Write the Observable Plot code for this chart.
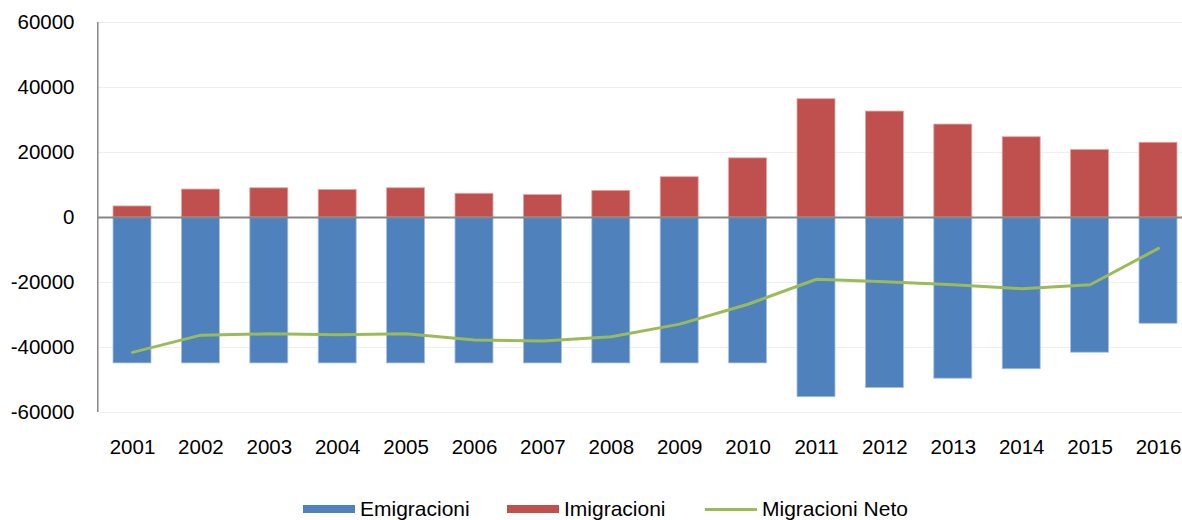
<!DOCTYPE html>
<html>
<head>
<meta charset="utf-8">
<script src="https://cdn.jsdelivr.net/npm/d3@7"></script>
<script src="https://cdn.jsdelivr.net/npm/@observablehq/plot@0.6"></script>
<style>
  html, body { margin: 0; padding: 0; background: #fff; }
  body { width: 1182px; height: 520px; overflow: hidden; font-family: "Liberation Sans", Arial, sans-serif; }
  #legend { position: relative; height: 50px; width: 1182px; font-size: 21px; color: #000; }
  #legend .sw { position: absolute; }
  #legend .lb { position: absolute; line-height: 24px; white-space: nowrap; }
</style>
</head>
<body>
<div id="chart"></div>
<div id="legend"></div>
<script>
const years = ["2001","2002","2003","2004","2005","2006","2007","2008","2009","2010","2011","2012","2013","2014","2015","2016"];
const emigracioni = [-44900,-44900,-44900,-44900,-44900,-44900,-44900,-44900,-44900,-44900,-55300,-52500,-49600,-46700,-41600,-32700];
const imigracioni = [3400,8600,9000,8500,9000,7300,6900,8200,12400,18200,36400,32600,28600,24700,20800,23000];
const neto = [-41500,-36200,-35800,-36100,-35800,-37700,-38000,-36700,-32800,-26700,-19000,-19800,-20700,-21900,-20700,-9500];
const yTicks = [-60000,-40000,-20000,0,20000,40000,60000];
const gridTicks = [-60000,-40000,-20000,20000,40000,60000];
const seriesNames = ["Emigracioni","Imigracioni","Migracioni Neto"];
const colors = ["#4F81BD","#C0504D","#9BBB59"];

const emiData = years.map((y, i) => ({year: y, value: emigracioni[i]}));
const immData = years.map((y, i) => ({year: y, value: imigracioni[i]}));
const netData = years.map((y, i) => ({year: y, value: neto[i]}));

const chart = Plot.plot({
  width: 1182,
  height: 470,
  marginTop: 22,
  marginBottom: 58,
  marginLeft: 98,
  marginRight: 0,
  style: {fontFamily: "'Liberation Sans', Arial, sans-serif", fontSize: "20.5px", color: "#000", background: "#fff"},
  x: {domain: years, range: [97.8, 1192.2], padding: 0, round: false, label: null},
  y: {domain: [-60000, 60000], label: null},
  marks: [
    Plot.ruleY(gridTicks, {stroke: "#efefef", strokeWidth: 1}),
    Plot.barY(emiData, {x: "year", y: "value", fill: colors[0], stroke: "#a9c1e0", strokeWidth: 0.8, insetLeft: 15.2, insetRight: 15.2}),
    Plot.barY(immData, {x: "year", y: "value", fill: colors[1], stroke: "#e0a9a8", strokeWidth: 0.8, insetLeft: 15.2, insetRight: 15.2}),
    Plot.ruleY([0], {stroke: "#868686", strokeWidth: 2}),
    Plot.line(netData, {x: "year", y: "value", stroke: colors[2], strokeWidth: 3, curve: "linear"}),
    Plot.axisY({ticks: yTicks, tickSize: 0, tickPadding: 24, tickFormat: d => String(d), fill: "#000"}),
    Plot.axisX({tickSize: 0, tickPadding: 27, fill: "#000"})
  ]
});
document.getElementById("chart").appendChild(chart);

// left axis line using the plot's scales
const ys = chart.scale("y");
const xs = chart.scale("x");
d3.select(chart).append("line")
  .attr("x1", xs.range[0]).attr("x2", xs.range[0])
  .attr("y1", ys.apply(60000)).attr("y2", ys.apply(-60000))
  .attr("stroke", "#868686").attr("stroke-width", 1.5);

// legend
const legend = document.getElementById("legend");
const items = [
  {name: seriesNames[0], color: colors[0], type: "bar", sx: 303, tx: 360},
  {name: seriesNames[1], color: colors[1], type: "bar", sx: 507, tx: 564},
  {name: seriesNames[2], color: colors[2], type: "line", sx: 705, tx: 762}
];
for (const it of items) {
  const sw = document.createElement("div");
  sw.className = "sw";
  sw.style.left = it.sx + "px";
  sw.style.width = "52px";
  sw.style.background = it.color;
  if (it.type === "bar") { sw.style.top = "35px"; sw.style.height = "8px"; }
  else { sw.style.top = "37.5px"; sw.style.height = "3px"; }
  legend.appendChild(sw);
  const lb = document.createElement("div");
  lb.className = "lb";
  lb.style.left = it.tx + "px";
  lb.style.top = "27px";
  lb.textContent = it.name;
  legend.appendChild(lb);
}
</script>
</body>
</html>
